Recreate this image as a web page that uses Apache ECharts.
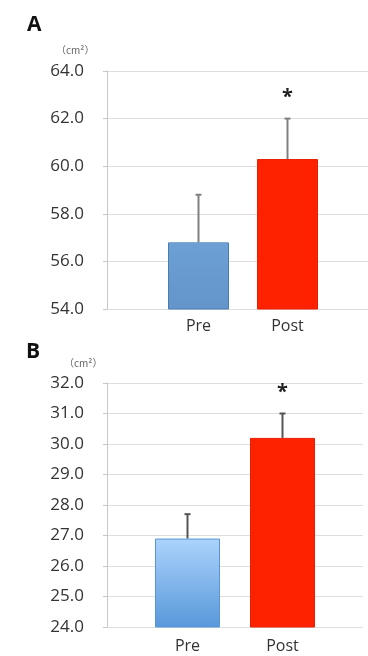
<!DOCTYPE html>
<html>
<head>
<meta charset="utf-8">
<script src="https://cdn.jsdelivr.net/npm/echarts@6/dist/echarts.min.js"></script>
<style>
  html, body { margin: 0; padding: 0; background: #fff; }
  #chart { width: 368px; height: 656px; }
</style>
</head>
<body>
<div id="chart"></div>
<script>
// data
let categories = ['Pre', 'Post'];
let meanA = [56.8, 60.3];
let sdA = [2.0, 1.7];
let meanB = [26.9, 30.2];
let sdB = [0.8, 0.8];
let sigMark = ['', '*'];
let panelTitles = ['A', 'B'];
let unitText = '（cm²）';

let font = '"Open Sans", "DejaVu Sans", sans-serif';
let cjkFont = '"Noto Sans CJK JP", "Open Sans", sans-serif';
let chart = echarts.init(document.getElementById('chart'));

let errData = function (mean, sd) {
    return categories.map((c, i) => [i, mean[i] + sd[i], mean[i], sigMark[i]]);
};

let errSeries = function (axisIdx, mean, sd, color) {
    return {
        type: 'custom',
        xAxisIndex: axisIdx,
        yAxisIndex: axisIdx,
        z: 1,
        data: errData(mean, sd),
        renderItem: function (params, api) {
            let top = api.coord([api.value(0), api.value(1)]);
            let base = api.coord([api.value(0), api.value(2)]);
            let children = [{
                type: 'line',
                shape: { x1: top[0], y1: top[1], x2: base[0], y2: base[1] },
                style: { stroke: color, lineWidth: 2 }
            }, {
                type: 'line',
                shape: { x1: top[0] - 3, y1: top[1], x2: top[0] + 3, y2: top[1] },
                style: { stroke: color, lineWidth: 2 }
            }];
            let mark = api.value(3);
            if (mark) {
                children.push({
                    type: 'text',
                    x: top[0],
                    y: top[1] - 21,
                    style: {
                        text: mark, fill: '#222', fontSize: 20, fontWeight: 'bold',
                        fontFamily: font, align: 'center', verticalAlign: 'middle'
                    }
                });
            }
            return { type: 'group', children: children };
        }
    };
};

let frameY = function (gi, min, max, interval) {
    return {
        gridIndex: gi, type: 'value', min: min, max: max, interval: interval,
        axisLine: { show: true, lineStyle: { color: '#c8c8c8', width: 1 } },
        axisTick: { show: true, length: 4, lineStyle: { color: '#c8c8c8' } },
        splitLine: { show: true, lineStyle: { color: '#dedede', width: 1 } },
        axisLabel: {
            margin: 23, color: '#333', fontSize: 17, fontFamily: font,
            formatter: v => v.toFixed(1)
        }
    };
};

let barY = function (gi, min, max) {
    return { gridIndex: gi, type: 'value', min: min, max: max, show: false };
};

let barX = function (gi, margin) {
    return {
        gridIndex: gi, type: 'category', data: categories,
        axisLine: { show: false }, axisTick: { show: false },
        axisLabel: { margin: margin, color: '#333', fontSize: 16, fontFamily: font }
    };
};

let blueA = new echarts.graphic.LinearGradient(0, 0, 0, 1, [
    { offset: 0, color: '#a9d2f6' },
    { offset: 0.03, color: '#6c9fd4' },
    { offset: 1, color: '#6395cb' }
]);
let blueB = new echarts.graphic.LinearGradient(0, 0, 0, 1, [
    { offset: 0, color: '#acd3fc' },
    { offset: 1, color: '#5898da' }
]);
let red = '#ff2200';

option = {
    backgroundColor: '#fff',
    animation: false,
    title: [
        { text: panelTitles[0], left: 22, top: 10, textStyle: { fontSize: 21, fontWeight: 'bold', color: '#111', fontFamily: font } },
        { text: unitText, left: 51, top: 40, textStyle: { fontSize: 10, fontWeight: 'normal', color: '#666', fontFamily: cjkFont } },
        { text: panelTitles[1], left: 21, top: 337, textStyle: { fontSize: 21, fontWeight: 'bold', color: '#111', fontFamily: font } },
        { text: unitText, left: 59, top: 353, textStyle: { fontSize: 10, fontWeight: 'normal', color: '#666', fontFamily: cjkFont } }
    ],
    grid: [
        { left: 107, right: 0, top: 71, height: 238 },
        { left: 154, right: 36, top: 71, height: 238 },
        { left: 107, right: 5, top: 383, height: 244 },
        { left: 140, right: 38, top: 383, height: 244 }
    ],
    xAxis: [
        { gridIndex: 0, type: 'category', data: [''], show: false },
        barX(1, 9),
        { gridIndex: 2, type: 'category', data: [''], show: false },
        barX(3, 11)
    ],
    yAxis: [
        frameY(0, 54, 64, 2),
        barY(1, 54, 64),
        frameY(2, 24, 32, 1),
        barY(3, 24, 32)
    ],
    series: [
        {
            type: 'bar', xAxisIndex: 1, yAxisIndex: 1, barWidth: 61, z: 2,
            data: [
                { value: meanA[0], itemStyle: { color: blueA, borderColor: '#4a7cb2', borderWidth: 1 } },
                { value: meanA[1], itemStyle: { color: red, borderColor: '#e81e00', borderWidth: 1 } }
            ]
        },
        errSeries(1, meanA, sdA, '#808080'),
        {
            type: 'bar', xAxisIndex: 3, yAxisIndex: 3, barWidth: 65, z: 2,
            data: [
                { value: meanB[0], itemStyle: { color: blueB, borderColor: '#5a95d0', borderWidth: 1 } },
                { value: meanB[1], itemStyle: { color: red, borderColor: '#e81e00', borderWidth: 1 } }
            ]
        },
        errSeries(3, meanB, sdB, '#555')
    ]
};
chart.setOption(option);
</script>
</body>
</html>
